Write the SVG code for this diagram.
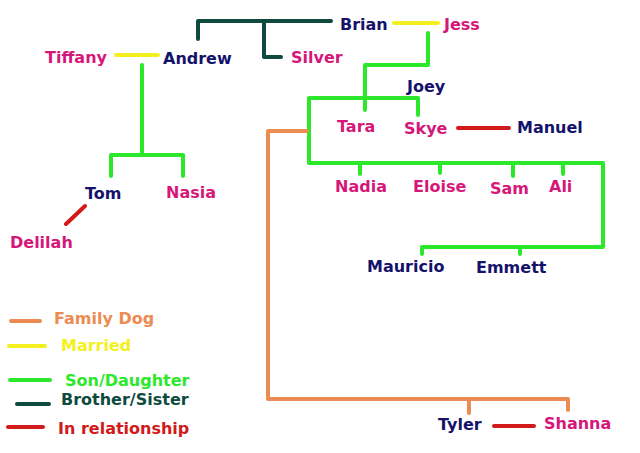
<svg xmlns="http://www.w3.org/2000/svg" width="640" height="453" viewBox="0 0 640 453">
<style>
text{font-family:"DejaVu Sans","Liberation Sans",sans-serif;font-weight:bold;font-size:16px}
.p{fill:#d6177a}.n{fill:#14126a}
.l{fill:none;stroke-width:4;stroke-linecap:round;stroke-linejoin:round}
.g{stroke:#2be82b}.d{stroke:#0e4a3e}.o{stroke:#ec8c52}.y{stroke:#f4f020}.r{stroke:#d21a1a}
</style>
<rect width="640" height="453" fill="#fff"/>
<g id="connectors">
<path class="l d" d="M198 39V21H331M264 21V57H281"/>
<path class="l y" d="M394 23H438M116 55H158"/>
<path class="l g" d="M428 33V65H365V110M309 163V98H418V115M309 163H603V247H422V254M360 163V174M440 163V173M513 163V176M563 163V174M520 247V254M142 65V155M111 155H183V176M111 155V176"/>
<path class="l o" d="M307 131H268V399H568V410M469 399V413"/>
<path class="l r" d="M458 128H509M66 224L85 206M494 426H534"/>
</g>
<g id="n-brian"><text x="340" y="30" class="n">Brian</text></g>
<g id="n-jess"><text x="444" y="30" class="p">Jess</text></g>
<g id="n-tiffany"><text x="45" y="63" class="p">Tiffany</text></g>
<g id="n-andrew"><text x="163" y="64" class="n">Andrew</text></g>
<g id="n-silver"><text x="291" y="63" class="p">Silver</text></g>
<g id="n-joey"><text x="407" y="92" class="n">Joey</text></g>
<g id="n-tara"><text x="337" y="132" class="p">Tara</text></g>
<g id="n-skye"><text x="404" y="134" class="p">Skye</text></g>
<g id="n-manuel"><text x="517" y="133" class="n">Manuel</text></g>
<g id="n-tom"><text x="85" y="199" class="n">Tom</text></g>
<g id="n-nasia"><text x="166" y="198" class="p">Nasia</text></g>
<g id="n-delilah"><text x="10" y="248" class="p">Delilah</text></g>
<g id="n-nadia"><text x="335" y="192" class="p">Nadia</text></g>
<g id="n-eloise"><text x="413" y="192" class="p">Eloise</text></g>
<g id="n-sam"><text x="490" y="194" class="p">Sam</text></g>
<g id="n-ali"><text x="549" y="192" class="p">Ali</text></g>
<g id="n-mauricio"><text x="367" y="272" class="n">Mauricio</text></g>
<g id="n-emmett"><text x="476" y="273" class="n">Emmett</text></g>
<g id="n-tyler"><text x="438" y="430" class="n">Tyler</text></g>
<g id="n-shanna"><text x="544" y="429" class="p">Shanna</text></g>
<g id="legend">
<path class="l o" d="M11 321H40"/><text x="54" y="324" fill="#ec8c52">Family Dog</text>
<path class="l y" d="M9 346H45"/><text x="61" y="351" fill="#f4f020">Married</text>
<path class="l g" d="M10 380H50"/><text x="65" y="386" fill="#2be82b">Son/Daughter</text>
<path class="l d" d="M17 404H49"/><text x="61" y="405" fill="#0e4a3e">Brother/Sister</text>
<path class="l r" d="M8 427H43"/><text x="58" y="434" fill="#d21a1a">In relationship</text>
</g>
</svg>
